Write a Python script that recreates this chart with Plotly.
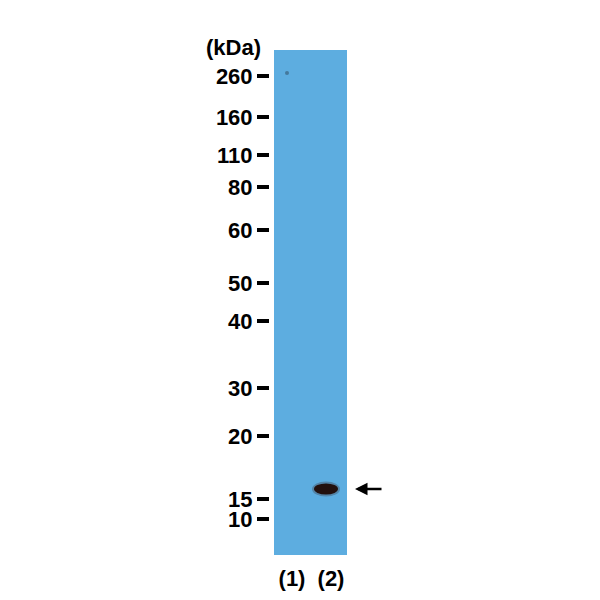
"""Western blot panel: marker ladder, two lanes and one band."""

import plotly.graph_objects as go

# marker ladder (kDa) and where each one ran on the gel (pixel rows)
marker_kda = ["260", "160", "110", "80", "60", "50", "40", "30", "20", "15", "10"]
marker_migration_px = [76, 117, 155, 187, 230, 283, 321, 388, 436, 499, 519]

# lanes (pixel columns inside the gel)
lane_labels = ["(1)", "(2)"]
lane_x_px = [292, 331]

# detected band in lane 2
band_x_px = [326]
band_y_px = [489]
band_w_px = 24
band_h_px = 11

# faint speck at the top of lane 1
speck_x_px = [287]
speck_y_px = [73]

GEL_LEFT, GEL_RIGHT = 274, 347
GEL_TOP, GEL_BOTTOM = 50, 555
GEL_BLUE = "#5dade0"
FONT = dict(family="Liberation Sans, Arial", size=22, color="black", weight="bold")

fig = go.Figure()

fig.add_trace(go.Scatter(
    x=speck_x_px,
    y=speck_y_px,
    mode="markers",
    marker=dict(size=4, color="#2f4f66", opacity=0.55),
    hoverinfo="skip",
    showlegend=False,
))

# band: soft halo then dark core
for bx, by in zip(band_x_px, band_y_px):
    fig.add_shape(
        type="circle", xref="x", yref="y",
        x0=bx - band_w_px / 2 - 2, x1=bx + band_w_px / 2 + 2,
        y0=by - band_h_px / 2 - 2, y1=by + band_h_px / 2 + 2,
        fillcolor="rgba(60,40,40,0.3)", line=dict(width=0),
    )
    fig.add_shape(
        type="circle", xref="x", yref="y",
        x0=bx - band_w_px / 2, x1=bx + band_w_px / 2,
        y0=by - band_h_px / 2, y1=by + band_h_px / 2,
        fillcolor="#22100e", line=dict(width=0),
    )
    fig.add_annotation(
        x=355 / 600, xref="paper", y=by, yref="y",
        ax=28, ay=0, axref="pixel", ayref="pixel",
        showarrow=True, arrowhead=2, arrowsize=1, arrowwidth=2.5,
        arrowcolor="black", text="",
    )

fig.add_annotation(
    x=263 / 600, xref="paper", y=1 - 47 / 600, yref="paper",
    text="(kDa)", showarrow=False, xanchor="right", yanchor="middle",
    font=FONT,
)

fig.update_layout(
    width=600,
    height=600,
    margin=dict(l=0, r=0, t=0, b=0),
    paper_bgcolor="white",
    plot_bgcolor=GEL_BLUE,
    xaxis=dict(
        domain=[GEL_LEFT / 600, GEL_RIGHT / 600],
        range=[GEL_LEFT, GEL_RIGHT],
        tickvals=lane_x_px,
        ticktext=lane_labels,
        ticks="outside",
        ticklen=4,
        tickcolor="rgba(0,0,0,0)",
        showgrid=False,
        zeroline=False,
        showline=False,
        tickfont=FONT,
        fixedrange=True,
    ),
    yaxis=dict(
        domain=[1 - GEL_BOTTOM / 600, 1 - GEL_TOP / 600],
        range=[GEL_BOTTOM, GEL_TOP],
        anchor="free",
        position=269 / 600,
        tickvals=marker_migration_px,
        ticktext=marker_kda,
        ticks="outside",
        ticklen=12,
        tickwidth=3.5,
        tickcolor="black",
        showgrid=False,
        zeroline=False,
        showline=False,
        tickfont=FONT,
        fixedrange=True,
    ),
)

# the browser adds an 8px body margin; drop it so the figure fills the window
fig.write_html(
    "out.html",
    config={"displayModeBar": False},
    post_script="document.body.style.margin = '0';",
)
